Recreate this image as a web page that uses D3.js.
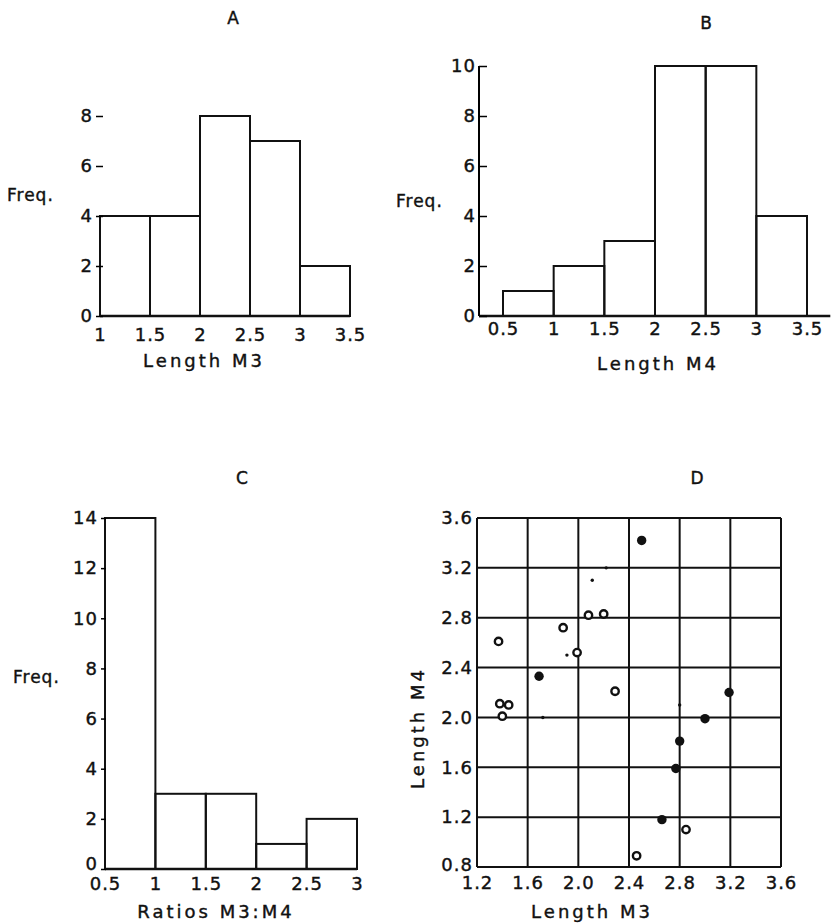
<!DOCTYPE html>
<html><head><meta charset="utf-8">
<script src="https://cdn.jsdelivr.net/npm/d3@7"></script>
<style>
body{margin:0;background:#fff;}
text{font-family:"DejaVu Sans",sans-serif;fill:#111;stroke:#111;stroke-width:0.4px;}
</style></head>
<body><svg id="c" width="838" height="923"></svg>
<script>
// ---- Panel A: Length M3 histogram
const binsA = [1, 1.5, 2, 2.5, 3, 3.5];
const freqA = [4, 4, 8, 7, 2];
const xTicksA = ["1", "1.5", "2", "2.5", "3", "3.5"];
const yTicksA = [0, 2, 4, 6, 8];
// ---- Panel B: Length M4 histogram
const binsB = [0.5, 1, 1.5, 2, 2.5, 3, 3.5];
const freqB = [1, 2, 3, 10, 10, 4];
const xTicksB = ["0.5", "1", "1.5", "2", "2.5", "3", "3.5"];
const yTicksB = [0, 2, 4, 6, 8, 10];
// ---- Panel C: Ratios M3:M4 histogram
const binsC = [0.5, 1, 1.5, 2, 2.5, 3];
const freqC = [14, 3, 3, 1, 2];
const xTicksC = ["0.5", "1", "1.5", "2", "2.5", "3"];
const yTicksC = [0, 2, 4, 6, 8, 10, 12, 14];
// ---- Panel D: scatter Length M3 vs Length M4
const dM3 =   [2.50, 2.22, 2.11, 2.08, 2.20, 1.88, 1.37, 1.91, 1.99, 1.69, 2.29, 1.38, 1.45, 1.40, 1.72, 3.19, 2.80, 3.00, 2.80, 2.77, 2.66, 2.85, 2.46];
const dM4 =   [3.42, 3.20, 3.10, 2.82, 2.83, 2.72, 2.61, 2.50, 2.52, 2.33, 2.21, 2.11, 2.10, 2.01, 2.00, 2.20, 2.10, 1.99, 1.81, 1.59, 1.18, 1.10, 0.89];
const dKind = ["f","s","s","o","o","o","o","s","o","f","o","o","o","o","s","f","s","f","f","f","f","o","o"];
const xTicksD = [1.2, 1.6, 2.0, 2.4, 2.8, 3.2, 3.6];
const yTicksD = [0.8, 1.2, 1.6, 2.0, 2.4, 2.8, 3.2, 3.6];

const svg = d3.select("#c");
const FS = 18;
function styleTick(sel){ sel.style("font-size",FS+"px").style("letter-spacing","1px").attr("fill","#111"); }

function histogram(o){
  const g = svg.append("g");
  const x = d3.scaleLinear().domain([o.bins[0], o.bins[o.bins.length-1]]).range(o.xr);
  const y = d3.scaleLinear().domain([0, d3.max(o.yt)]).range(o.yr);
  const data = o.freq.map((f,i)=>({x0:o.bins[i], x1:o.bins[i+1], f}));
  g.selectAll("rect").data(data).join("rect")
    .attr("x", d=>x(d.x0)).attr("width", d=>x(d.x1)-x(d.x0))
    .attr("y", d=>y(d.f)).attr("height", d=>y(0)-y(d.f))
    .attr("fill","none").attr("stroke","#111").attr("stroke-width",2);
  // x axis
  const xa = g.append("g").attr("transform",`translate(0,${y(0)})`)
    .call(d3.axisBottom(x).tickValues(o.bins).tickFormat((d,i)=>o.xt[i]).tickSize(0).tickPadding(o.xpad));
  xa.select(".domain").remove();
  styleTick(xa.selectAll("text"));
  const bx0 = o.baseline ? o.baseline[0] : x.range()[0];
  const bx1 = o.baseline ? x(o.baseline[1]) : x.range()[1];
  g.append("line").attr("x1", bx0).attr("x2", bx1)
    .attr("y1", y(0)).attr("y2", y(0)).attr("stroke","#111").attr("stroke-width",2.5);
  // y axis
  const ya = g.append("g").attr("transform",`translate(${o.yaxX},0)`)
    .call(d3.axisRight(y).tickValues(o.yt).tickSize(o.tickLen).tickFormat(d3.format("d")));
  if (!o.yline) ya.select(".domain").remove();
  else ya.select(".domain").attr("d", `M0,${y(0)}V${y(d3.max(o.yt))}`).attr("stroke-width",2);
  ya.selectAll(".tick line").attr("stroke-width",1.5);
  styleTick(ya.selectAll("text").attr("x",-3).attr("text-anchor","end"));
  if (o.zeroUp) ya.selectAll(".tick").filter(d=>d===0).select("text").attr("y",-o.zeroUp);
  // titles
  g.append("text").attr("x",o.title[1]).attr("y",o.title[2]).attr("text-anchor","middle")
    .style("font-size","17px").text(o.title[0]);
  g.append("text").attr("x",o.freq_[0]).attr("y",o.freq_[1])
    .style("font-size","17px").style("letter-spacing","1px").text("Freq.");
  g.append("text").attr("x",o.xlab[1]).attr("y",o.xlab[2]).attr("text-anchor","middle")
    .style("font-size","18px").style("letter-spacing","3px").text(o.xlab[0]);
}

histogram({bins:binsA, freq:freqA, xt:xTicksA, yt:yTicksA, xr:[100,350], yr:[316,116],
  yaxX:96, tickLen:7, yline:false, xpad:12, title:["A",233,24], freq_:[7,201], xlab:["Length  M3",204,367]});
histogram({bins:binsB, freq:freqB, xt:xTicksB, yt:yTicksB, xr:[503,807], yr:[316,66],
  yaxX:479, tickLen:8, yline:true, xpad:6, baseline:[479,3.73], title:["B",706,29], freq_:[396,207], xlab:["Length  M4",658,370]});
histogram({bins:binsC, freq:freqC, xt:xTicksC, yt:yTicksC, xr:[105,357], yr:[869,518],
  yaxX:101, tickLen:5, yline:false, xpad:8, zeroUp:5, title:["C",242,484], freq_:[13,683], xlab:["Ratios  M3:M4",216,918]});

// ---- Panel D
(function(){
  const g = svg.append("g");
  const x = d3.scaleLinear().domain([1.2,3.6]).range([477,781]);
  const y = d3.scaleLinear().domain([0.8,3.6]).range([867,518]);
  g.selectAll(".vg").data(xTicksD).join("line").attr("x1",d=>x(d)).attr("x2",d=>x(d))
    .attr("y1",y(0.8)).attr("y2",y(3.6)).attr("stroke","#111").attr("stroke-width",2);
  g.selectAll(".hg").data(yTicksD).join("line").attr("y1",d=>y(d)).attr("y2",d=>y(d))
    .attr("x1",x(1.2)).attr("x2",x(3.6)).attr("stroke","#111").attr("stroke-width",2);
  const xa = g.append("g").attr("transform",`translate(0,${y(0.8)})`)
    .call(d3.axisBottom(x).tickValues(xTicksD).tickFormat(d3.format(".1f")).tickSize(0).tickPadding(9));
  xa.select(".domain").remove();
  styleTick(xa.selectAll("text"));
  const ya = g.append("g").attr("transform",`translate(${x(1.2)},0)`)
    .call(d3.axisLeft(y).tickValues(yTicksD).tickFormat(d3.format(".1f")).tickSize(0).tickPadding(4));
  ya.select(".domain").remove();
  styleTick(ya.selectAll("text"));
  ya.selectAll(".tick").filter(d=>d===0.8).select("text").attr("dy","0.2em");
  const pts = dM3.map((v,i)=>({x:v, y:dM4[i], k:dKind[i]}));
  g.selectAll(".pt").data(pts).join("circle")
    .attr("cx",d=>x(d.x)).attr("cy",d=>y(d.y))
    .attr("r",d=>d.k==="f"?4.7:(d.k==="o"?3.7:1.7))
    .attr("fill",d=>d.k==="o"?"#fff":"#111")
    .attr("stroke","#111").attr("stroke-width",d=>d.k==="o"?2.4:0);
  g.append("text").attr("x",697).attr("y",484).attr("text-anchor","middle").style("font-size","17px").text("D");
  g.append("text").attr("x",592).attr("y",918).attr("text-anchor","middle")
    .style("font-size","18px").style("letter-spacing","3px").text("Length  M3");
  g.append("text").attr("transform","translate(424,728) rotate(-90)").attr("text-anchor","middle")
    .style("font-size","18px").style("letter-spacing","3px").text("Length      M4");
})();
</script></body></html>
